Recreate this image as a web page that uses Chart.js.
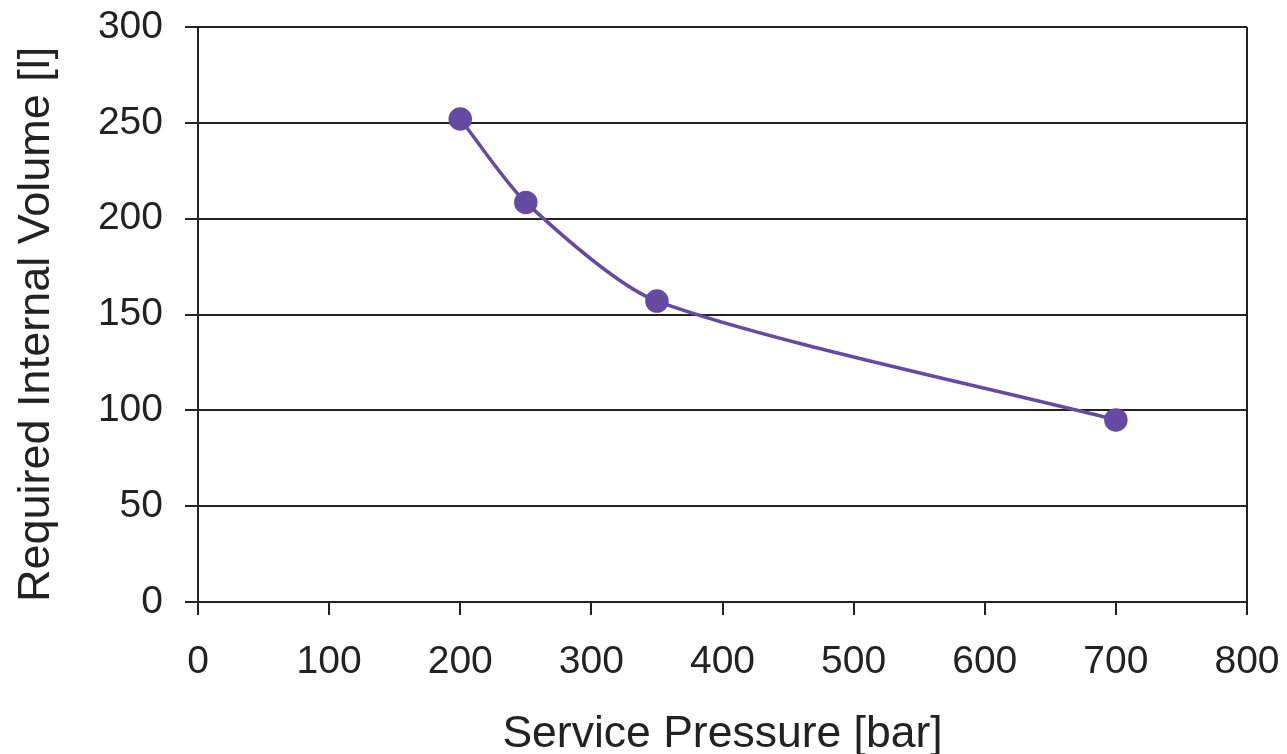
<!DOCTYPE html>
<html>
<head>
<meta charset="utf-8">
<script src="https://cdn.jsdelivr.net/npm/chart.js@4/dist/chart.umd.min.js"></script>
<style>
html,body{margin:0;padding:0;background:#fff;}
#wrap{width:1287px;height:754px;position:relative;}
</style>
</head>
<body>
<div id="wrap"><canvas id="c" width="1287" height="754"></canvas></div>
<script>
const pressures = [200, 250, 350, 700];
const volumes = [252, 208.5, 157, 95];
const xTicks = [0, 100, 200, 300, 400, 500, 600, 700, 800];
const yTicks = [0, 50, 100, 150, 200, 250, 300];
const xTitle = 'Service Pressure [bar]';
const yTitle = 'Required Internal Volume [l]';

const ink = '#222222';
const lineColor = '#644AA0';
const fontFamily = '"Liberation Sans", Arial, sans-serif';

new Chart(document.getElementById('c'), {
  type: 'line',
  data: {
    datasets: [{
      data: pressures.map((p, i) => ({x: p, y: volumes[i]})),
      borderColor: lineColor,
      backgroundColor: lineColor,
      borderWidth: 3.5,
      pointRadius: 10,
      pointHoverRadius: 10,
      pointBackgroundColor: lineColor,
      pointBorderColor: lineColor,
      tension: 0.25,
      fill: false
    }]
  },
  options: {
    responsive: false,
    animation: false,
    events: [],
    layout: {padding: {top: 27, right: 40, left: 0, bottom: 0}},
    plugins: {legend: {display: false}, tooltip: {enabled: false}},
    scales: {
      x: {
        type: 'linear',
        min: 0, max: 800,
        afterBuildTicks: s => { s.ticks = xTicks.map(v => ({value: v})); },
        afterFit: s => { s.height = 152; s.paddingLeft = 0; s.paddingRight = 0; },
        ticks: {color: ink, font: {family: fontFamily, size: 39}, padding: 24, maxRotation: 0},
        grid: {
          color: ctx => (ctx.index === xTicks.length - 1 ? ink : 'rgba(0,0,0,0)'),
          tickColor: ink,
          lineWidth: 2,
          tickLength: 13
        },
        border: {display: true, color: ink, width: 2},
        title: {display: true, text: xTitle, color: ink, font: {family: fontFamily, size: 44.5, lineHeight: 1}, padding: {top: 0, bottom: -3}}
      },
      y: {
        type: 'linear',
        min: 0, max: 300,
        afterBuildTicks: s => { s.ticks = yTicks.map(v => ({value: v})); },
        afterFit: s => { s.width = 198; s.paddingTop = 0; s.paddingBottom = 0; },
        ticks: {color: ink, font: {family: fontFamily, size: 39}, padding: 22},
        grid: {color: ink, tickColor: ink, lineWidth: 2, tickLength: 13},
        border: {display: true, color: ink, width: 2},
        title: {display: true, align: 'start', text: yTitle, color: ink, font: {family: fontFamily, size: 45, lineHeight: 1}, padding: {top: 14, bottom: 0}}
      }
    }
  }
});
</script>
</body>
</html>
